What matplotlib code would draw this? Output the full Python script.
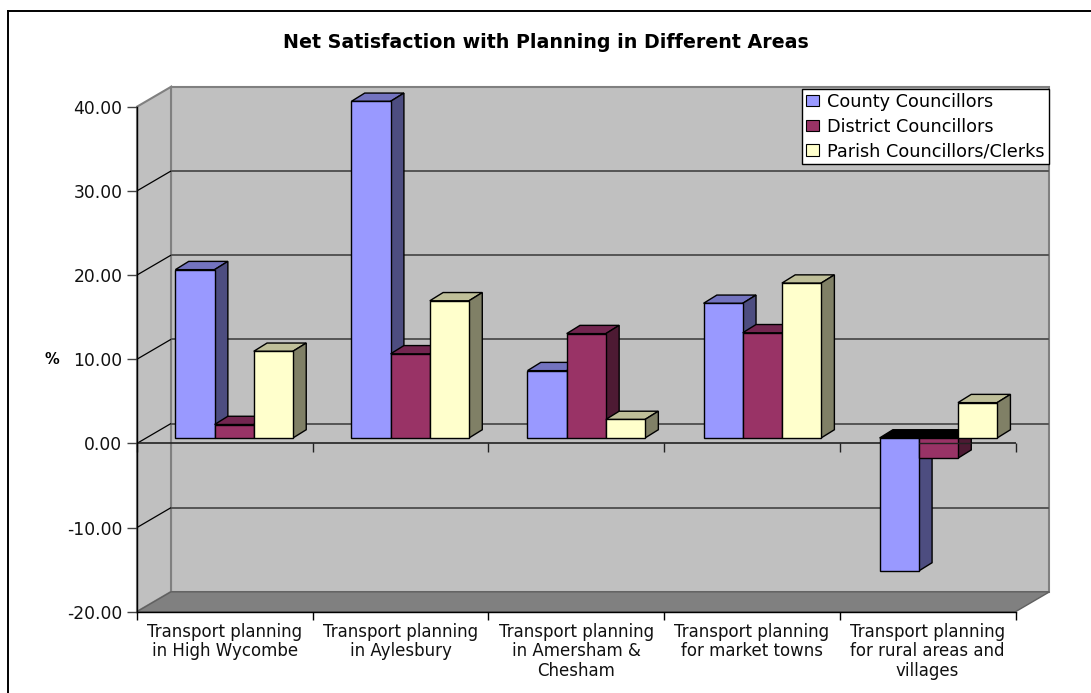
import numpy as np
import matplotlib
matplotlib.use('Agg')
import matplotlib.pyplot as plt
from matplotlib.patches import Patch, Polygon

W, H = 1091, 693

categories = ['Transport planning\nin High Wycombe', 'Transport planning\nin Aylesbury',
              'Transport planning\nin Amersham &\nChesham', 'Transport planning\nfor market towns',
              'Transport planning\nfor rural areas and\nvillages']
county = [20.0, 40.0, 8.0, 16.0, -15.8]
district = [1.6, 10.0, 12.4, 12.5, -2.4]
parish = [10.3, 16.3, 2.2, 18.4, 4.2]
series_names = ['County Councillors', 'District Councillors', 'Parish Councillors/Clerks']
yticks = [-20, -10, 0, 10, 20, 30, 40]

# front, side, top
colors = [('#9999ff', '#4d4d80', '#7373bf'),
          ('#993366', '#4d1a33', '#732650'),
          ('#ffffcc', '#808066', '#bfbf99')]

# fake 3d offsets, in data units
WALL_DX, WALL_DY = 0.1935, 2.36
BAR_X, BAR_Y = 0.053, 0.64
BAR_DX, BAR_DY = 0.0757, 0.98
BAR_W = 0.223
PITCH = 1.002

fig = plt.figure(figsize=(W / 100, H / 100), dpi=100)
ax = fig.add_axes([137 / W, (H - 611.7) / H, 878.5 / W, 505 / H])
ax.set_xlim(0, 5)
ax.set_ylim(-20, 40)
ax.patch.set_visible(False)


def poly(pts, fc, ec='black', lw=1.0, z=3):
    ax.add_patch(Polygon(pts, closed=True, fc=fc, ec=ec, lw=lw, zorder=z, clip_on=False, joinstyle='miter'))


def line(xs, ys, color='black', lw=1.0, z=1.5):
    ax.plot(xs, ys, color=color, lw=lw, zorder=z, clip_on=False, solid_capstyle='butt')


# walls
poly([(WALL_DX, -20 + WALL_DY), (5 + WALL_DX, -20 + WALL_DY), (5 + WALL_DX, 40 + WALL_DY), (WALL_DX, 40 + WALL_DY)],
     '#c0c0c0', '#808080', 1.5, 1)
poly([(0, -20), (WALL_DX, -20 + WALL_DY), (WALL_DX, 40 + WALL_DY), (0, 40)], '#c0c0c0', '#808080', 1.5, 1)
poly([(0, -20), (WALL_DX, -20 + WALL_DY), (5 + WALL_DX, -20 + WALL_DY), (5, -20)], '#808080', '#606060', 1.0, 1.1)

for v in yticks[2:-1] + [-10]:
    line([WALL_DX, 5 + WALL_DX], [v + WALL_DY, v + WALL_DY], '#555555', 1.4)
    line([0, WALL_DX], [v, v + WALL_DY], 'black', 0.9)
line([0, 5], [0, 0], '#222222', 1.2, 2)
for i in range(6):
    line([i, i], [0, -1.0], '#222222', 1.0, 2)


def draw_bar(i, j, v):
    front, side, top = colors[j]
    x0 = i * PITCH + (1 - 3 * BAR_W) / 2 + j * BAR_W + BAR_X
    x1 = x0 + BAR_W
    y0 = min(v, 0) + BAR_Y
    y1 = max(v, 0) + BAR_Y
    z = 3 + i + j * 0.1
    poly([(x0, y1), (x0 + BAR_DX, y1 + BAR_DY), (x1 + BAR_DX, y1 + BAR_DY), (x1, y1)],
         'black' if v < 0 else top, z=z)
    poly([(x1, y0), (x1 + BAR_DX, y0 + BAR_DY), (x1 + BAR_DX, y1 + BAR_DY), (x1, y1)], side, z=z)
    poly([(x0, y0), (x1, y0), (x1, y1), (x0, y1)], front, z=z)
    return x0, x1


for i in range(len(categories)):
    for j, vals in enumerate([county, district, parish]):
        x0, x1 = draw_bar(i, j, vals[i])
        # the axis line shows over the small negative bar
        if vals[i] < 0 and j == 1:
            line([x0, x1 + BAR_DX], [0, 0], '#222222', 1.0, 3 + i + 0.15)

# axes
for s in ['top', 'right']:
    ax.spines[s].set_visible(False)
for s in ['left', 'bottom']:
    ax.spines[s].set_linewidth(1.0)
    ax.spines[s].set_zorder(2)
ax.set_yticks(yticks)
ax.set_yticklabels(['%.2f' % v for v in yticks], fontsize=12.3, color='#111111')
ax.tick_params(axis='y', length=7.5, width=1.0, color='#444444', pad=3)
ax.set_xticks(range(6))
ax.set_xticklabels([])
ax.tick_params(axis='x', which='major', length=6, width=1.0)
ax.set_xticks(np.arange(5) + 0.5, minor=True)
ax.set_xticklabels(categories, minor=True, fontsize=12, color='#111111', linespacing=1.12)
ax.tick_params(axis='x', which='minor', length=0, pad=8)

# chart frame, only left and top survive the crop
fig.add_artist(plt.Line2D([7.5 / W, 7.5 / W], [0, 1 - 11 / H], color='black', lw=1.4))
fig.add_artist(plt.Line2D([7.5 / W, 1], [1 - 11 / H, 1 - 11 / H], color='black', lw=1.4))

fig.text(546 / W, 1 - 42 / H, 'Net Satisfaction with Planning in Different Areas', ha='center', va='center',
         fontsize=13.7, fontweight='bold', color='black')
fig.text(52 / W, 1 - 359 / H, '%', ha='center', va='center', fontsize=10.5, fontweight='bold', color='black')

handles = [Patch(fc=c[0], ec='black', lw=0.8) for c in colors]
leg = fig.legend(handles, series_names, loc='upper left', bbox_to_anchor=(802 / W, 1 - 89 / H), borderaxespad=0,
                 fontsize=12.7, frameon=True, fancybox=False, edgecolor='black', framealpha=1, handlelength=0.72,
                 handleheight=0.62, handletextpad=0.5, labelspacing=0.38, borderpad=0.22)
leg.get_frame().set_linewidth(1.0)
leg.set_zorder(20)

fig.savefig('out.png', dpi=100)
